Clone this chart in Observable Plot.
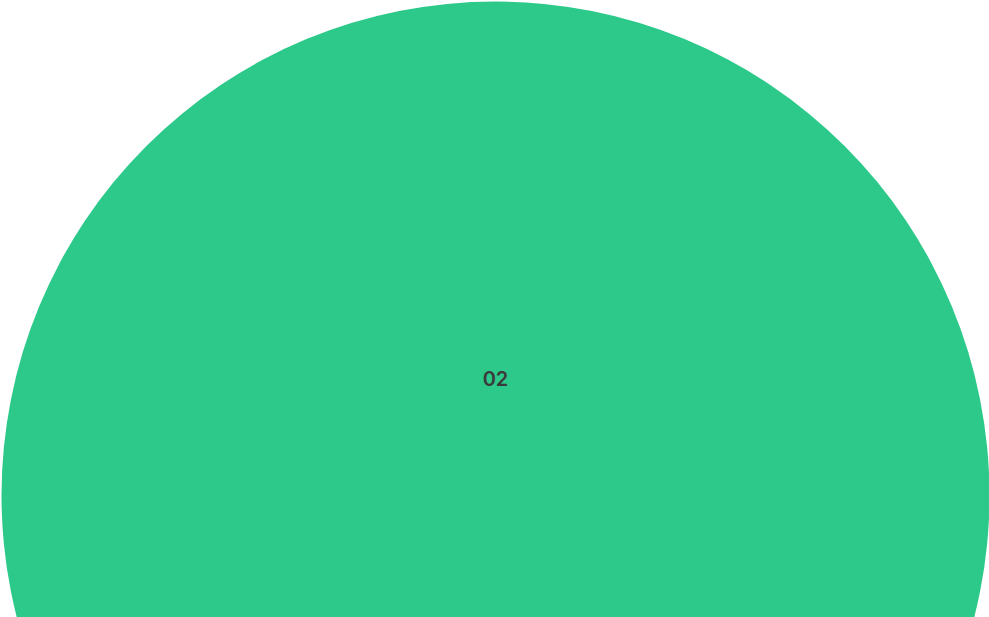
<!DOCTYPE html>
<html>
<head>
<meta charset="utf-8">
<script src="https://cdn.jsdelivr.net/npm/d3@7"></script>
<script src="https://cdn.jsdelivr.net/npm/@observablehq/plot@0.6"></script>
<style>
  html, body { margin: 0; padding: 0; background: #ffffff; overflow: hidden; }
  #chart svg { display: block; }
</style>
</head>
<body>
<div id="chart"></div>
<script>
// Data
const categories = ["02"];
const values = [1];
const colors = ["#2CC98A"];

const total = d3.sum(values);
const data = categories.map((c, i) => ({category: c, value: values[i], x: 0, y: 0, ly: 0.235}));

const chart = Plot.plot({
  width: 989,
  height: 617,
  margin: 0,
  style: {background: "#ffffff", fontFamily: "Inter, 'Noto Sans', sans-serif"},
  x: {domain: [-1, 1], range: [1, 989], axis: null},
  y: {domain: [-1, 1], range: [989, 1], axis: null},
  r: {type: "linear", domain: [0, total], range: [0, 494]},
  color: {domain: categories, range: colors},
  marks: [
    Plot.dot(data, {x: "x", y: "y", r: "value", fill: "category", stroke: null}),
    Plot.text(data, {x: "x", y: "ly", text: "category", fill: "#3a3a3a", fontSize: 20, fontWeight: 600})
  ]
});
document.getElementById("chart").appendChild(chart);
</script>
</body>
</html>
